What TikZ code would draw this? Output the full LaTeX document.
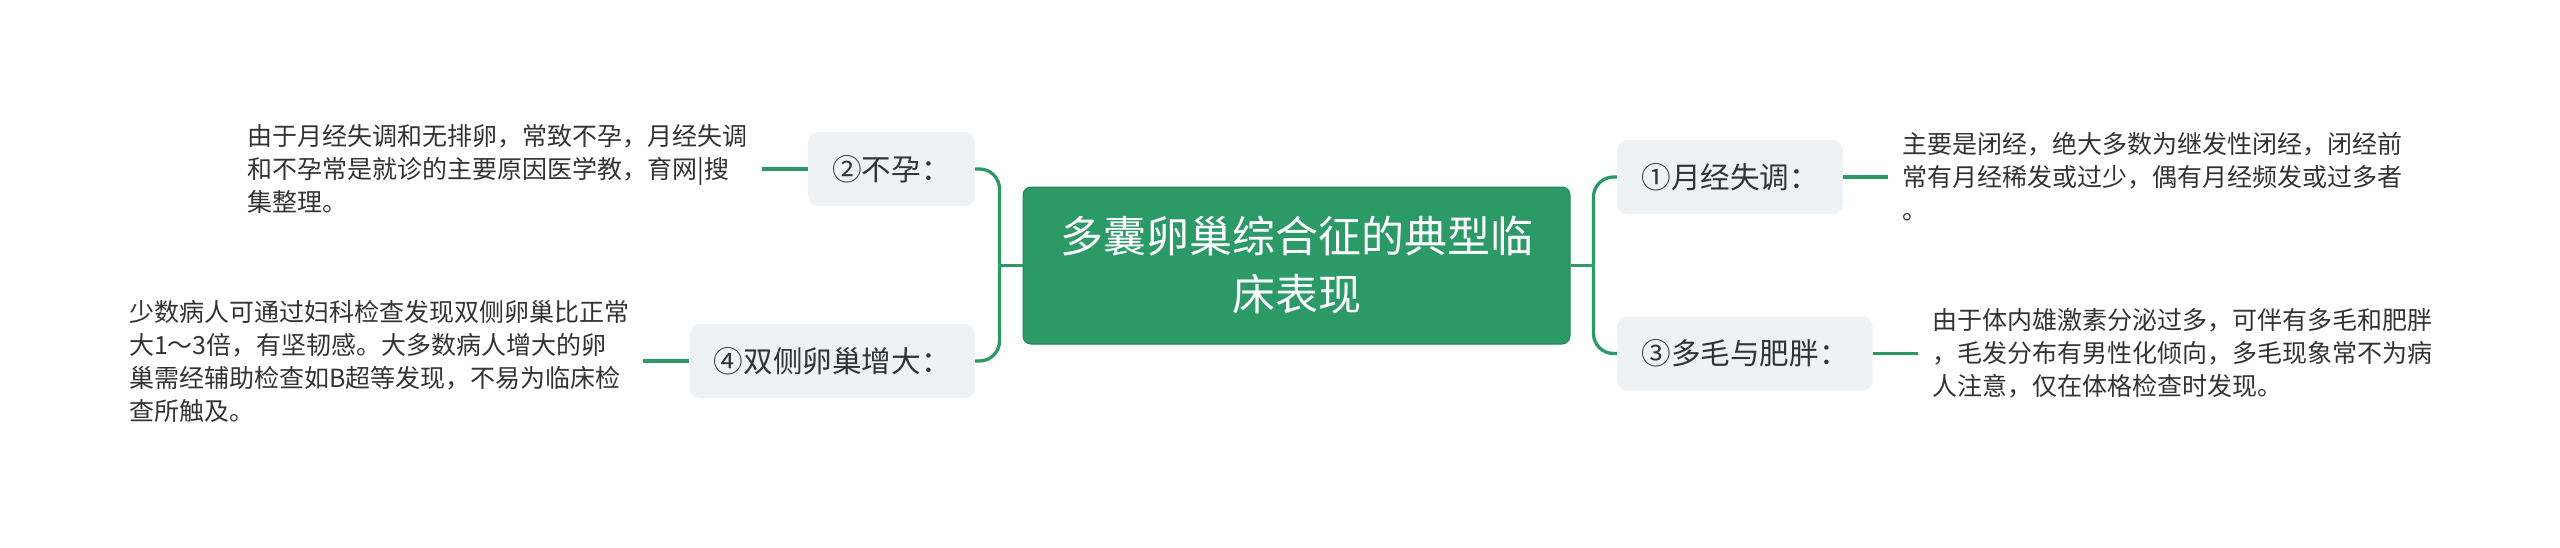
\documentclass[tikz,border=0pt]{standalone}
\usepackage{fontspec}
\setmainfont{Noto Sans CJK SC}
\usetikzlibrary{positioning}
\definecolor{mapgreen}{HTML}{2C9A66}
\definecolor{topicgrey}{HTML}{EFF2F5}
\definecolor{inkgrey}{HTML}{333333}
\begin{document}
\begin{tikzpicture}[x=0.5pt, y=-0.5pt,
    core/.style={fill=mapgreen, draw=mapgreen!85!black, line width=0.5pt, rounded corners=4pt,
      text=white, align=center, minimum width=273.5pt, minimum height=78.5pt, inner sep=0pt,
      font=\fontsize{21.5pt}{29pt}\selectfont},
    topic/.style={fill=topicgrey, rounded corners=5pt, text=inkgrey, minimum height=37pt,
      inner xsep=12pt, inner ysep=0pt, font=\fontsize{14.8pt}{18pt}\selectfont},
    detail/.style={text=inkgrey, align=left, inner xsep=7pt, inner ysep=0pt,
      font=\fontsize{12.5pt}{16.5pt}\selectfont},
    link/.style={draw=mapgreen, line width=1.65pt, rounded corners=10pt}]
    \useasboundingbox (0,0) rectangle (2560,547);
    \node[core] (core) at (1296.5,265.5) {多囊卵巢综合征的典型临\\床表现};
    \node[topic, anchor=west] (t1) at (1617,177) {①月经失调：};
    \node[topic, anchor=east] (t2) at (975,169) {②不孕：};
    \node[topic, anchor=west] (t3) at (1617,353.5) {③多毛与肥胖：};
    \node[topic, anchor=east] (t4) at (975,361) {④双侧卵巢增大：};
    \node[detail, right=22.5pt of t1] (d1) {主要是闭经，绝大多数为继发性闭经，闭经前\\常有月经稀发或过少，偶有月经频发或过多者\\。};
    \node[detail, left=23pt of t2] (d2) {由于月经失调和无排卵，常致不孕，月经失调\\和不孕常是就诊的主要原因医学教，育网|搜\\集整理。};
    \node[detail, right=22.5pt of t3] (d3) {由于体内雄激素分泌过多，可伴有多毛和肥胖\\，毛发分布有男性化倾向，多毛现象常不为病\\人注意，仅在体格检查时发现。};
    \node[detail, left=23pt of t4] (d4) {少数病人可通过妇科检查发现双侧卵巢比正常\\大1～3倍，有坚韧感。大多数病人增大的卵\\巢需经辅助检查如B超等发现，不易为临床检\\查所触及。};
    \path (core.west) ++(-23,0) coordinate (lhub);
    \path (core.east) ++(23,0) coordinate (rhub);
    \draw[link] (core.west) -- (lhub);
    \draw[link] (core.east) -- (rhub);
    \draw[link] (t2.east) -| (lhub);
    \draw[link] (t4.east) -| (lhub);
    \draw[link] (t1.west) -| (rhub);
    \draw[link] (t3.west) -| (rhub);
    \draw[link] (t1.east) -- (d1.west);
    \draw[link] (t2.west) -- (d2.east);
    \draw[link] (t3.east) -- (d3.west);
    \draw[link] (t4.west) -- (d4.east);
\end{tikzpicture}
\end{document}
